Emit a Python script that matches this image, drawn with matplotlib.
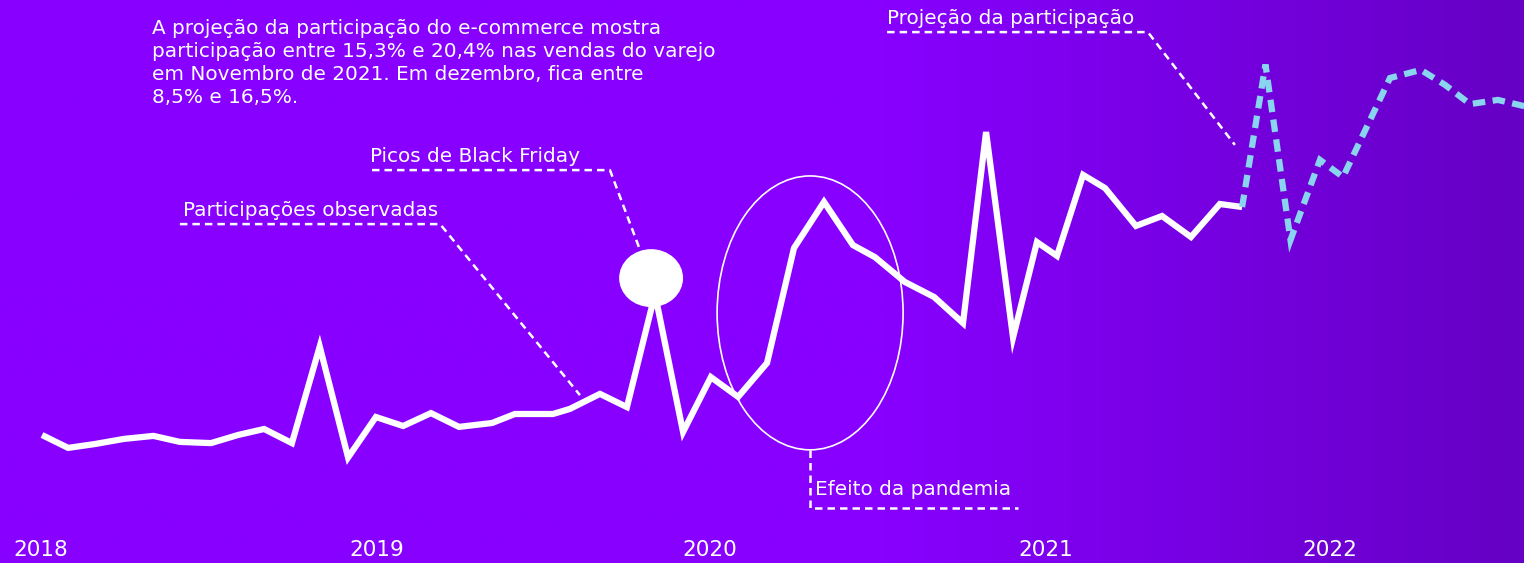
import numpy as np
import matplotlib.pyplot as plt
from matplotlib.patches import Ellipse
from matplotlib.colors import LinearSegmentedColormap

# participação do e-commerce nas vendas do varejo (%), meses contados a partir de jan/2018
meses_obs = [0.00, 0.94, 1.91, 2.95, 4.01, 4.96, 6.08, 7.05, 7.99, 8.99,
             9.99, 11.01, 12.01, 12.99, 13.99, 15.00, 16.19, 17.01, 18.38, 18.99,
             20.07, 21.04, 22.05, 23.06, 24.06, 25.04, 26.08, 27.05, 28.13, 29.17,
             29.96, 31.04, 32.09, 33.13, 33.96, 34.93, 35.79, 36.51, 37.45, 38.24,
             39.35, 40.29, 41.33, 42.37, 43.17]
part_obs = [5.50, 5.07, 5.20, 5.37, 5.47, 5.27, 5.23, 5.50, 5.70, 5.23,
            8.45, 4.75, 6.10, 5.80, 6.23, 5.77, 5.90, 6.20, 6.20, 6.37,
            6.87, 6.43, 10.2, 5.60, 7.43, 6.77, 7.90, 11.73, 13.27, 11.83,
            11.43, 10.60, 10.10, 9.23, 15.6, 8.75, 11.93, 11.47, 14.17, 13.73,
            12.47, 12.80, 12.10, 13.20, 13.10]

# projeção (parte do último mês observado)
meses_proj = [43.17, 44.01, 44.91, 45.97, 46.80, 48.49, 49.60, 50.47, 51.37, 52.37, 53.60]
part_proj = [13.10, 17.85, 12.00, 14.67, 14.10, 17.40, 17.67, 17.17, 16.53, 16.67, 16.40]

anos = ['2018', '2019', '2020', '2021', '2022']
anos_pos = [-0.04, 12.05, 24.03, 36.12, 46.33]

texto_topo = ('A projeção da participação do e-commerce mostra\n'
              'participação entre 15,3% e 20,4% nas vendas do varejo\n'
              'em Novembro de 2021. Em dezembro, fica entre\n'
              '8,5% e 16,5%.')

plt.rcParams['font.family'] = ['DejaVu Sans']
fonte = dict(color='white')
tam = 14.4

fig = plt.figure(figsize=(15.24, 5.63), dpi=100)
ax = fig.add_axes([0, 0, 1, 1])
x0, x1 = -1.511, 53.31
y0, y1 = 1.233, 20.0
ax.set_xlim(x0, x1)
ax.set_ylim(y0, y1)
ax.axis('off')

# fundo roxo escurecendo para a direita
grad = np.clip((np.linspace(0, 1, 600) - 0.58) / 0.42, 0, 1)[None, :]
cmap = LinearSegmentedColormap.from_list('fundo', ['#8800ff', '#6500c4'])
ax.imshow(grad, cmap=cmap, extent=[x0, x1, y0, y1], aspect='auto', zorder=0)

ax.plot(meses_obs, part_obs, color='white', lw=4.5,
        solid_joinstyle='miter', solid_capstyle='butt', zorder=3)
ax.plot(meses_proj, part_proj, color='#89d4ee', lw=4.5, ls=(0, (2.0, 1.2)),
        dash_joinstyle='miter', dash_capstyle='butt', zorder=3)

# destaques
ax.add_patch(Ellipse((27.63, 9.57), 6.69, 9.13, fill=False, ec='white', lw=1.2, zorder=2))
ax.add_patch(Ellipse((21.91, 10.73), 2.30, 1.93, fc='white', ec='none', zorder=4))

guia = dict(color='white', lw=1.8, ls=(0, (3, 2)), zorder=2)
ax.plot([4.96, 14.32, 19.35], [12.53, 12.53, 6.83], **guia)
ax.plot([11.87, 20.43, 21.51], [14.33, 14.33, 11.67], **guia)
ax.plot([27.63, 27.63, 35.11], [5.0, 3.07, 3.07], **guia)
ax.plot([30.40, 39.78, 42.91], [18.93, 18.93, 15.17], **guia)

ax.text(5.07, 12.65, 'Participações observadas', fontsize=tam, va='bottom', **fonte)
ax.text(11.80, 14.45, 'Picos de Black Friday', fontsize=tam, va='bottom', **fonte)
ax.text(27.80, 3.67, 'Efeito da pandemia', fontsize=tam, va='center', **fonte)
ax.text(30.40, 19.05, 'Projeção da participação', fontsize=tam, va='bottom', **fonte)
ax.text(3.96, 19.38, texto_topo, fontsize=tam, va='top', linespacing=1.28, **fonte)

for pos, ano in zip(anos_pos, anos):
    ax.text(pos, 1.67, ano, fontsize=15.5, ha='center', va='center', **fonte)

fig.savefig('out.png', dpi=100)
